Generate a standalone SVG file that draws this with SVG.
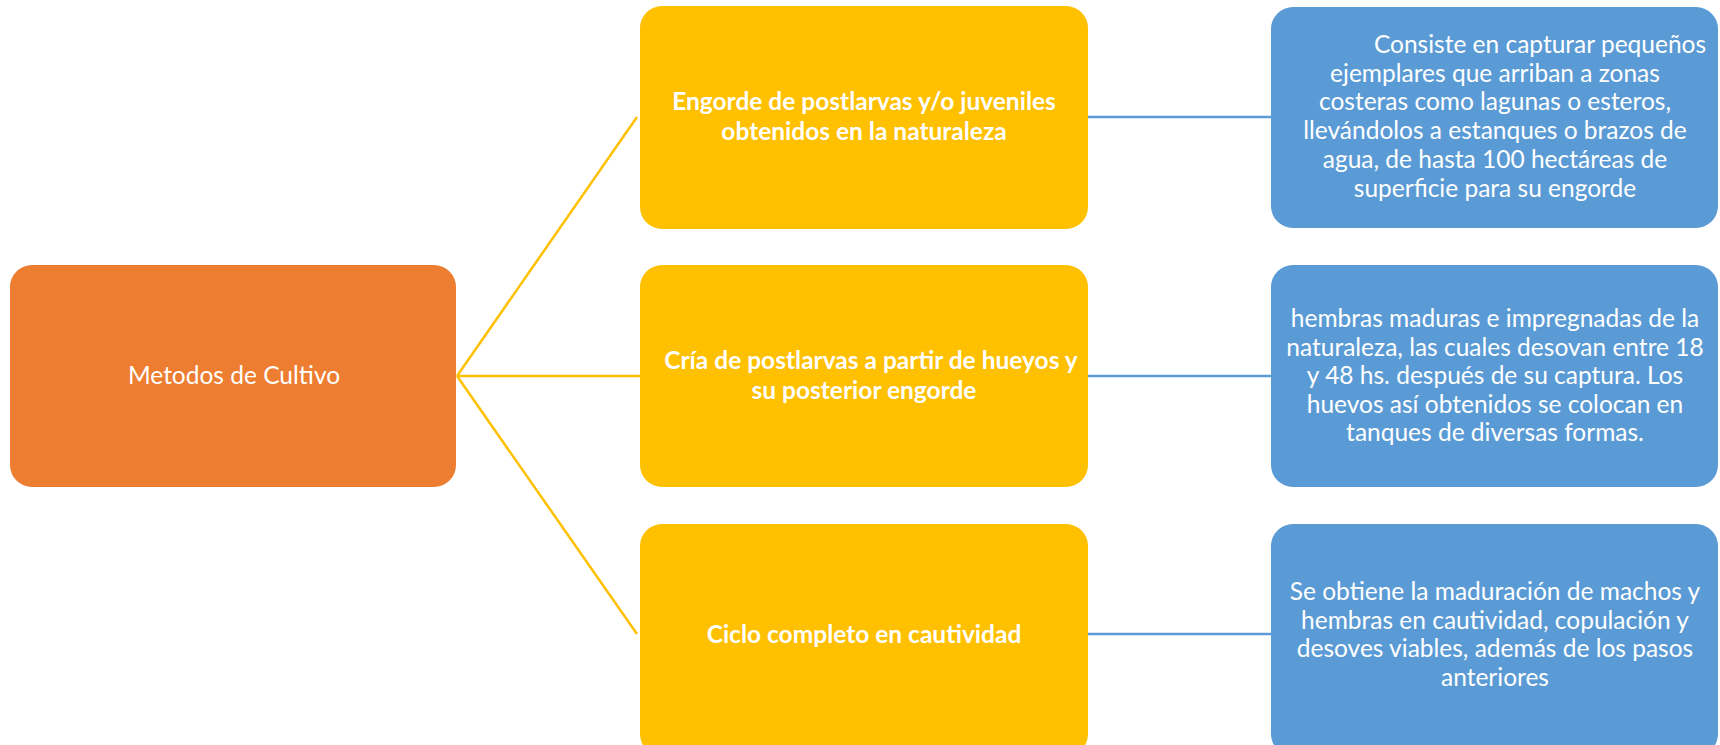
<svg xmlns="http://www.w3.org/2000/svg" width="1720" height="745" viewBox="0 0 1720 745">
<style>
.t{font-family:Lato,"Open Sans","Liberation Sans",sans-serif;fill:#fff;text-anchor:middle}
.b{font-weight:bold;font-size:24.5px}
.r{font-size:24.5px}
.yl{stroke:#FFC000;stroke-width:2.5;fill:none}
.bl{stroke:#5B9BD5;stroke-width:2.5;fill:none}
</style>
<rect width="1720" height="745" fill="#fff"/>
<g id="connectors">
<line class="yl" x1="457" y1="376" x2="637" y2="117"/>
<line class="yl" x1="457" y1="376" x2="640" y2="376"/>
<line class="yl" x1="457" y1="376" x2="637" y2="634"/>
<line class="bl" x1="1088" y1="117" x2="1271" y2="117"/>
<line class="bl" x1="1088" y1="376" x2="1271" y2="376"/>
<line class="bl" x1="1088" y1="634" x2="1271" y2="634"/>
</g>
<g id="root">
<rect x="10" y="265" width="446" height="222" rx="22" fill="#ED7D31"/>
<text class="t r" x="234" y="384">Metodos de Cultivo</text>
</g>
<g id="m1">
<rect x="640" y="6" width="448" height="223" rx="22" fill="#FFC000"/>
<text class="t b" x="864" y="110">Engorde de postlarvas y/o juveniles</text>
<text class="t b" x="864" y="140">obtenidos en la naturaleza</text>
</g>
<g id="m2">
<rect x="640" y="265" width="448" height="222" rx="22" fill="#FFC000"/>
<text class="t b" x="871" y="369">Cría de postlarvas a partir de hueyos y</text>
<text class="t b" x="864" y="399">su posterior engorde</text>
</g>
<g id="m3">
<rect x="640" y="524" width="448" height="232" rx="22" fill="#FFC000"/>
<text class="t b" x="864" y="643">Ciclo completo en cautividad</text>
</g>
<g id="d1">
<rect x="1271" y="7" width="447" height="221" rx="22" fill="#5B9BD5"/>
<text class="t r" x="1540" y="53">Consiste en capturar pequeños</text>
<text class="t r" x="1495" y="81.7">ejemplares que arriban a zonas</text>
<text class="t r" x="1495" y="110.4">costeras como lagunas o esteros,</text>
<text class="t r" x="1495" y="139.1">llevándolos a estanques o brazos de</text>
<text class="t r" x="1495" y="167.8">agua, de hasta 100 hectáreas de</text>
<text class="t r" x="1495" y="196.5">superficie para su engorde</text>
</g>
<g id="d2">
<rect x="1271" y="265" width="447" height="222" rx="22" fill="#5B9BD5"/>
<text class="t r" x="1495" y="327">hembras maduras e impregnadas de la</text>
<text class="t r" x="1495" y="355.6">naturaleza, las cuales desovan entre 18</text>
<text class="t r" x="1495" y="384.2">y 48 hs. después de su captura. Los</text>
<text class="t r" x="1495" y="412.8">huevos así obtenidos se colocan en</text>
<text class="t r" x="1495" y="441.4">tanques de diversas formas.</text>
</g>
<g id="d3">
<rect x="1271" y="524" width="447" height="232" rx="22" fill="#5B9BD5"/>
<text class="t r" x="1495" y="600">Se obtiene la maduración de machos y</text>
<text class="t r" x="1495" y="628.6">hembras en cautividad, copulación y</text>
<text class="t r" x="1495" y="657.2">desoves viables, además de los pasos</text>
<text class="t r" x="1495" y="685.8">anteriores</text>
</g>
</svg>
